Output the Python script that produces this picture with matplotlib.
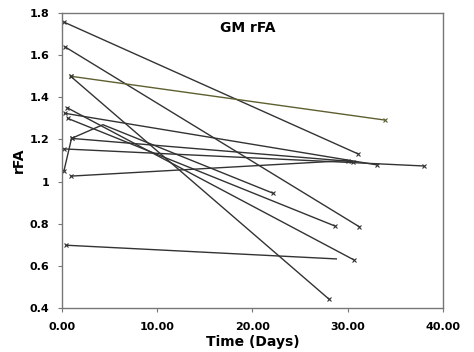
import matplotlib.pyplot as plt

# each subject: days since baseline and GM rFA
s1_days = [0.2, 31.1]
s1_rfa = [1.757, 1.131]
s2_days = [0.3, 31.2]
s2_rfa = [1.64, 0.786]
s3_days = [0.9, 33.9]
s3_rfa = [1.50, 1.292]
s4_days = [0.9, 28.06]
s4_rfa = [1.50, 0.441]
s5_days = [0.56, 30.66]
s5_rfa = [1.35, 0.628]
s6_days = [0.3, 33.1]
s6_rfa = [1.324, 1.079]
s7_days = [0.6, 28.66]
s7_rfa = [1.30, 0.789]
s8_days = [0.2, 1.0, 4.3, 22.2]
s8_rfa = [1.05, 1.205, 1.27, 0.944]
s9_days = [1.0, 30.5]
s9_rfa = [1.205, 1.095]
s10_days = [0.2, 38.0]
s10_rfa = [1.155, 1.074]
s11_days = [0.95, 30.0]
s11_rfa = [1.026, 1.10]
s12_days = [0.42, 28.8]
s12_rfa = [0.698, 0.633]

subjects = [
    (s1_days, s1_rfa), (s2_days, s2_rfa), (s3_days, s3_rfa),
    (s4_days, s4_rfa), (s5_days, s5_rfa), (s6_days, s6_rfa),
    (s7_days, s7_rfa), (s8_days, s8_rfa), (s9_days, s9_rfa),
    (s10_days, s10_rfa), (s11_days, s11_rfa), (s12_days, s12_rfa),
]

fig = plt.figure(figsize=(4.74, 3.52), dpi=100)
ax = fig.add_axes([0.1308, 0.125, 0.8038, 0.838])

for i, (d, r) in enumerate(subjects):
    col = '#5f5f30' if i == 2 else '#333333'
    if i == 11:
        marks = [0]          # no marker on the last point
    elif i == 7:
        marks = [0, 1, 3]    # kink point has no marker
    else:
        marks = None
    ax.plot(d, r, color=col, lw=1.0, marker='x', ms=2.5, mew=0.8,
            markevery=marks)

ax.set_xlim(0, 40)
ax.set_ylim(0.4, 1.8)
ax.set_xticks([0, 10, 20, 30, 40])
ax.set_xticklabels(['0.00', '10.00', '20.00', '30.00', '40.00'])
ax.set_yticks([0.4, 0.6, 0.8, 1.0, 1.2, 1.4, 1.6, 1.8])
ax.set_yticklabels(['0.4', '0.6', '0.8', '1', '1.2', '1.4', '1.6', '1.8'])

for sp in ax.spines.values():
    sp.set_color('#777777')
    sp.set_linewidth(1.0)
ax.tick_params(direction='out', length=3, width=0.8, color='#777777',
               labelsize=8)
ax.tick_params(axis='x', pad=7)
ax.tick_params(axis='y', pad=6)
for lab in ax.get_xticklabels() + ax.get_yticklabels():
    lab.set_fontweight('bold')

ax.set_xlabel('Time (Days)', fontsize=10, fontweight='bold', labelpad=2)
ax.set_ylabel('rFA', fontsize=10, fontweight='bold', labelpad=3)
ax.text(19.5, 1.73, 'GM rFA', fontsize=10, fontweight='bold',
        ha='center', va='center')

fig.savefig('out.png', dpi=100)
